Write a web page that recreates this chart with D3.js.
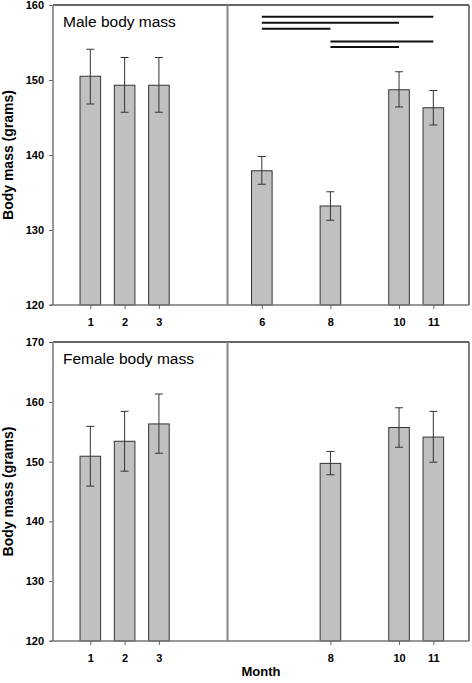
<!DOCTYPE html>
<html>
<head>
<meta charset="utf-8">
<script src="https://cdn.jsdelivr.net/npm/d3@7"></script>
<style>
  html, body { margin: 0; padding: 0; background: #fff; }
  svg { display: block; font-family: "Liberation Sans", Arial, sans-serif; }
</style>
</head>
<body>
<svg id="chart" width="472" height="683"></svg>
<script>
// ---- data ----
const maleMonths = [1, 2, 3, 6, 8, 10, 11];
const maleMean   = [150.5, 149.3, 149.3, 137.9, 133.2, 148.7, 146.3];
const maleUpper  = [154.1, 153.0, 153.0, 139.8, 135.1, 151.1, 148.6];
const maleLower  = [146.8, 145.7, 145.7, 136.1, 131.3, 146.4, 144.0];

const femaleMonths = [1, 2, 3, 8, 10, 11];
const femaleMean   = [150.9, 153.4, 156.3, 149.7, 155.7, 154.1];
const femaleUpper  = [155.9, 158.4, 161.3, 151.7, 159.0, 158.4];
const femaleLower  = [145.9, 148.4, 151.4, 147.8, 152.4, 149.9];

const maleTicks   = [120, 130, 140, 150, 160];
const femaleTicks = [120, 130, 140, 150, 160, 170];

// significance comparisons in the male panel: [from month, to month], level in grams
const sigPairs  = [[6, 11], [6, 10], [6, 8], [8, 11], [8, 10]];
const sigLevels = [158.45, 157.65, 156.85, 155.15, 154.4];

const dividerMonth = 5;
const monthDomain = [-0.088, 12.04];

// ---- layout ----
const svg = d3.select("#chart");
const left = 53, right = 469;

const panels = [
  { title: "Male body mass", months: maleMonths, mean: maleMean, up: maleUpper, lo: maleLower,
    ticks: maleTicks, top: 5, bottom: 305, sig: true },
  { title: "Female body mass", months: femaleMonths, mean: femaleMean, up: femaleUpper, lo: femaleLower,
    ticks: femaleTicks, top: 342, bottom: 641, sig: false }
];

const x = d3.scaleLinear().domain(monthDomain).range([left, right]);
const barW = x(1.6) - x(1);

panels.forEach(p => {
  const y = d3.scaleLinear().domain([p.ticks[0], p.ticks[p.ticks.length - 1]]).range([p.bottom, p.top]);
  const g = svg.append("g");

  // frame: top + right border
  g.append("line").attr("x1", left).attr("x2", right).attr("y1", p.top).attr("y2", p.top)
    .attr("stroke", "#333").attr("stroke-width", 1.5);
  g.append("line").attr("x1", right).attr("x2", right).attr("y1", p.top).attr("y2", p.bottom)
    .attr("stroke", "#555").attr("stroke-width", 1.5);
  // divider
  g.append("line").attr("x1", x(dividerMonth)).attr("x2", x(dividerMonth))
    .attr("y1", p.top).attr("y2", p.bottom)
    .attr("stroke", "#888").attr("stroke-width", 2);

  // bars
  g.selectAll("rect.bar").data(p.months).join("rect")
    .attr("class", "bar")
    .attr("x", m => x(m) - barW / 2)
    .attr("width", barW)
    .attr("y", (m, i) => y(p.mean[i]))
    .attr("height", (m, i) => y(p.ticks[0]) - y(p.mean[i]))
    .attr("fill", "#c0c0c0")
    .attr("stroke", "#333")
    .attr("stroke-width", 1);

  // error bars
  const capW = 8;
  const eb = g.selectAll("g.err").data(p.months).join("g").attr("class", "err");
  eb.append("line").attr("x1", m => x(m)).attr("x2", m => x(m))
    .attr("y1", (m, i) => y(p.up[i])).attr("y2", (m, i) => y(p.lo[i]))
    .attr("stroke", "#333").attr("stroke-width", 1);
  eb.append("line").attr("x1", m => x(m) - capW / 2).attr("x2", m => x(m) + capW / 2)
    .attr("y1", (m, i) => y(p.up[i])).attr("y2", (m, i) => y(p.up[i]))
    .attr("stroke", "#333").attr("stroke-width", 1);
  eb.append("line").attr("x1", m => x(m) - capW / 2).attr("x2", m => x(m) + capW / 2)
    .attr("y1", (m, i) => y(p.lo[i])).attr("y2", (m, i) => y(p.lo[i]))
    .attr("stroke", "#333").attr("stroke-width", 1);

  // significance lines
  if (p.sig) {
    g.selectAll("line.sig").data(sigPairs).join("line")
      .attr("class", "sig")
      .attr("x1", d => x(d[0])).attr("x2", d => x(d[1]))
      .attr("y1", (d, i) => y(sigLevels[i])).attr("y2", (d, i) => y(sigLevels[i]))
      .attr("stroke", "#111").attr("stroke-width", 2);
  }

  // axes
  const yAxis = d3.axisLeft(y).tickValues(p.ticks).tickFormat(d3.format("d")).tickSize(4).tickPadding(5);
  const ya = g.append("g").attr("transform", `translate(${left},0)`).call(yAxis);
  const xAxis = d3.axisBottom(x).tickValues(p.months).tickFormat(d3.format("d")).tickSize(4).tickPadding(9);
  const xa = g.append("g").attr("transform", `translate(0,${p.bottom})`).call(xAxis);
  [ya, xa].forEach(a => {
    a.select(".domain").remove();
    a.selectAll(".tick line").attr("stroke", "#666").attr("stroke-width", 1);
    a.selectAll(".tick text").attr("fill", "#000").attr("font-size", 11).attr("font-weight", "bold")
      .attr("font-family", "\"Liberation Sans\", Arial, sans-serif");
  });
  // axis lines
  g.append("line").attr("x1", left).attr("x2", left).attr("y1", p.top).attr("y2", p.bottom)
    .attr("stroke", "#777").attr("stroke-width", 1.5);
  g.append("line").attr("x1", left - 3).attr("x2", right).attr("y1", p.bottom).attr("y2", p.bottom)
    .attr("stroke", "#777").attr("stroke-width", 1.5);

  // title
  g.append("text").attr("x", 63).attr("y", p.top + 21.5)
    .attr("font-size", 15.5).attr("fill", "#000").text(p.title);

  // y label
  g.append("text")
    .attr("transform", `translate(12.5,${(p.top + p.bottom) / 2}) rotate(-90)`)
    .attr("text-anchor", "middle").attr("font-size", 14).attr("font-weight", "bold")
    .text("Body mass (grams)");
});

svg.append("text").attr("x", (left + right) / 2).attr("y", 676)
  .attr("text-anchor", "middle").attr("font-size", 13).attr("font-weight", "bold")
  .text("Month");
</script>
</body>
</html>
